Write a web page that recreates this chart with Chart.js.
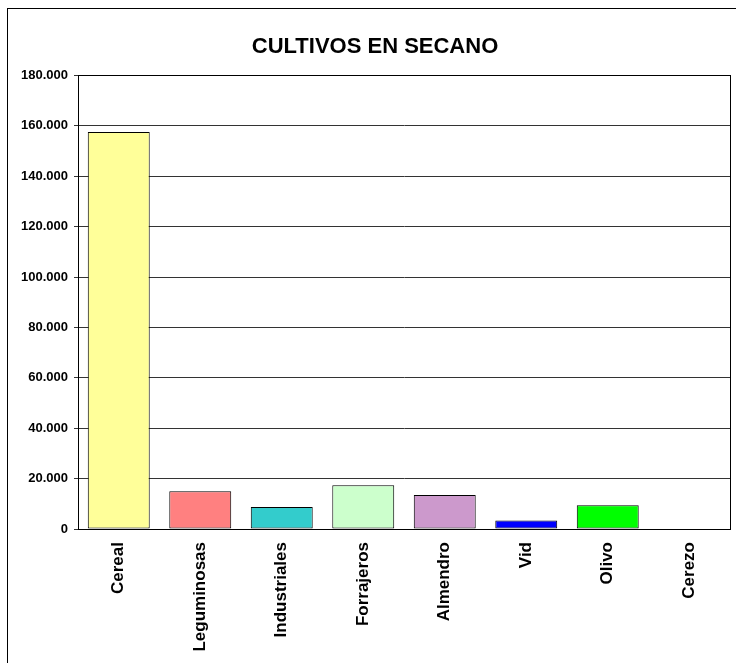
<!DOCTYPE html>
<html>
<head>
<meta charset="utf-8">
<script src="https://cdn.jsdelivr.net/npm/chart.js@4"></script>
<style>
  html, body { margin: 0; padding: 0; background: #fff; }
  #wrap { width: 736px; height: 663px; position: relative; }
</style>
</head>
<body>
<div id="wrap"><canvas id="chart" width="736" height="663"></canvas></div>
<script>
const categories = ['Cereal', 'Leguminosas', 'Industriales', 'Forrajeros', 'Almendro', 'Vid', 'Olivo', 'Cerezo'];
const hectareas = [157500, 15000, 8700, 17400, 13500, 3400, 9400, 0];
const barColors = ['#FFFF99', '#FF8080', '#33CCCC', '#CCFFCC', '#CC99CC', '#0000FF', '#00FF00', '#FFFFFF'];
const yTicks = [0, 20000, 40000, 60000, 80000, 100000, 120000, 140000, 160000, 180000];

const font = 'Liberation Sans, Arial, sans-serif';

// outer frame and plot box, like the spreadsheet chart
const frame = {
  id: 'frame',
  beforeDraw(chart) {
    const ctx = chart.ctx;
    ctx.save();
    ctx.fillStyle = '#fff';
    ctx.fillRect(0, 0, chart.width, chart.height);
    ctx.strokeStyle = '#000';
    ctx.lineWidth = 1;
    ctx.strokeRect(7.5, 8.5, 800, 800);
    ctx.restore();
  },
  afterDatasetsDraw(chart) {
    const a = chart.chartArea;
    const ctx = chart.ctx;
    ctx.save();
    ctx.strokeStyle = '#000';
    ctx.lineWidth = 1;
    ctx.strokeRect(Math.round(a.left) + 0.5, Math.round(a.top) + 0.5,
      Math.round(a.right - a.left), Math.round(a.bottom - a.top));
    ctx.restore();
  }
};

new Chart(document.getElementById('chart').getContext('2d'), {
  type: 'bar',
  plugins: [frame],
  data: {
    labels: categories,
    datasets: [{
      label: 'Secano',
      data: hectareas,
      backgroundColor: barColors,
      borderColor: '#000',
      borderWidth: 1,
      borderSkipped: false,
      categoryPercentage: 0.76,
      barPercentage: 1
    }]
  },
  options: {
    responsive: false,
    animation: false,
    layout: { padding: { left: 20, right: 6, top: 0, bottom: 0 } },
    plugins: {
      legend: { display: false },
      tooltip: { enabled: false },
      title: {
        display: true,
        text: 'CULTIVOS EN SECANO',
        color: '#000',
        font: { family: font, size: 22, weight: 'bold' },
        padding: { top: 34, bottom: 15 }
      }
    },
    scales: {
      x: {
        grid: { display: false, drawTicks: false },
        border: { display: true, color: '#000' },
        ticks: {
          color: '#000',
          font: { family: font, size: 17, weight: 'bold' },
          minRotation: 90,
          maxRotation: 90,
          padding: 13
        },
        afterFit(scale) { scale.height = 134; }
      },
      y: {
        min: 0,
        max: 180000,
        afterBuildTicks(scale) { scale.ticks = yTicks.map(v => ({ value: v })); },
        grid: { color: '#333', tickLength: 4 },
        border: { display: true, color: '#000' },
        ticks: {
          color: '#000',
          padding: 6,
          font: { family: font, size: 13, weight: 'bold' },
          callback: v => v.toLocaleString('de-DE')
        },
        afterFit(scale) { scale.width = 58; }
      }
    }
  }
});
</script>
</body>
</html>
